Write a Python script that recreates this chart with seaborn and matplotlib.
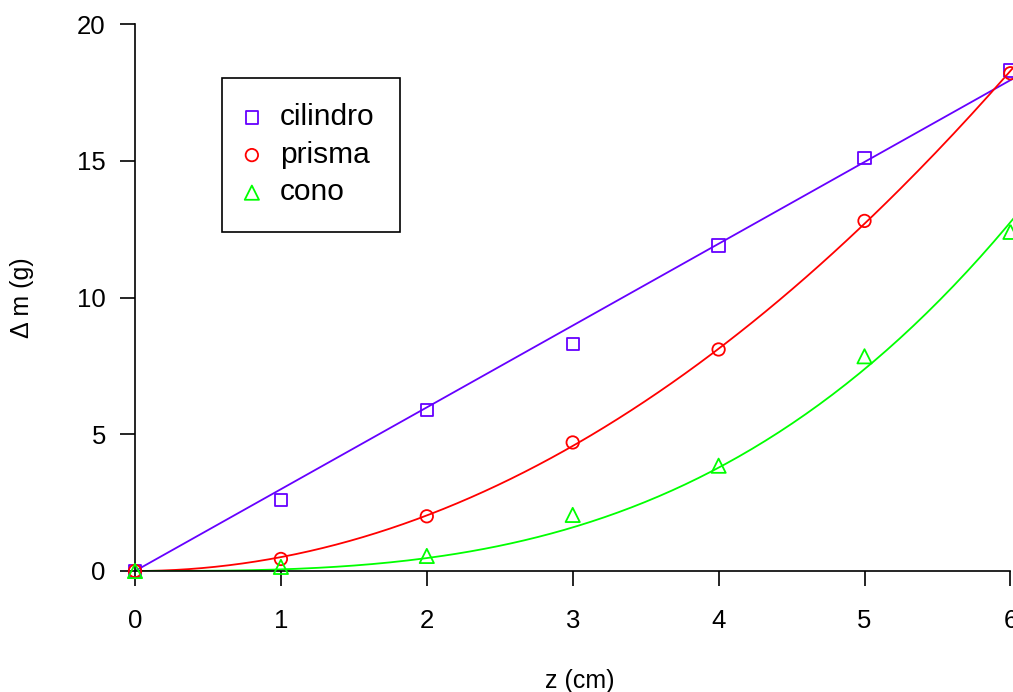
import numpy as np
import matplotlib
matplotlib.use("Agg")
import matplotlib.pyplot as plt
import seaborn as sns

# data
z = [0, 1, 2, 3, 4, 5, 6]
cilindro = [0, 2.6, 5.9, 8.3, 11.9, 15.1, 18.3]
prisma = [0, 0.44, 2.0, 4.7, 8.1, 12.8, 18.2]
cono = [0, 0.15, 0.55, 2.05, 3.85, 7.85, 12.4]

nombres = ["cilindro", "prisma", "cono"]
series = [cilindro, prisma, cono]
potencias = [1, 2, 3]  # fit dm = k * z^n
colores = ["#6600ff", "#ff0000", "#00ff00"]
marcadores = ["s", "o", "^"]
tamanos = [78, 80, 105]

sns.set_theme(style="white")
plt.rcParams["font.family"] = ["Liberation Sans", "DejaVu Sans"]
plt.rcParams["text.color"] = "black"

fig = plt.figure(figsize=(10.13, 6.92), dpi=100)
ax = fig.add_axes([135 / 1013, (692 - 571) / 692, 890 / 1013, 547 / 692])

zz = np.linspace(0, 6.1, 200)
xa = np.array(z, dtype=float)
for nombre, ys, n, col, mk, s in zip(nombres, series, potencias, colores, marcadores, tamanos):
    ya = np.array(ys)
    # least squares through the origin
    k = np.sum(xa**n * ya) / np.sum(xa**(2 * n))
    sns.lineplot(x=zz, y=k * zz**n, color=col, lw=1.3, ax=ax, legend=False)
    sns.scatterplot(x=z, y=ys, marker=mk, s=s, facecolor="none", edgecolor=col,
                    linewidth=1.3, label=nombre, ax=ax, clip_on=False, zorder=3)

ax.set_xlim(0, 6.1)
ax.set_ylim(0, 20)
ax.set_xticks(range(0, 7))
ax.set_yticks([0, 5, 10, 15, 20])
for side in ["top", "right"]:
    ax.spines[side].set_visible(False)
ax.spines["left"].set_bounds(0, 20)
ax.spines["bottom"].set_bounds(0, 6)
for side in ["left", "bottom"]:
    ax.spines[side].set_color("black")
    ax.spines[side].set_linewidth(1.2)
ax.tick_params(axis="both", bottom=True, left=True, direction="out", length=11,
               width=1.2, color="black", labelsize=18.5, labelcolor="black")
ax.tick_params(axis="y", pad=10)
ax.tick_params(axis="x", pad=16)

ax.set_xlabel("z (cm)", fontsize=18, color="black")
ax.set_ylabel("Δ m (g)", fontsize=18, color="black")
ax.xaxis.set_label_coords(0.5, -0.18)
ax.yaxis.set_label_coords((22 - 135) / 890, 0.5)
ax.yaxis.label.set_va("center")

leg = ax.legend(loc="upper left", bbox_to_anchor=((222 - 135) / 890, (571 - 78) / 547),
                borderaxespad=0, fontsize=21.5, frameon=True, fancybox=False,
                edgecolor="black", framealpha=1, handlelength=0.3,
                handletextpad=0.79, borderpad=0.85, labelspacing=0.32)
leg.get_frame().set_linewidth(1.2)
for t in leg.get_texts():
    t.set_color("black")

fig.savefig("out.png", dpi=100)
